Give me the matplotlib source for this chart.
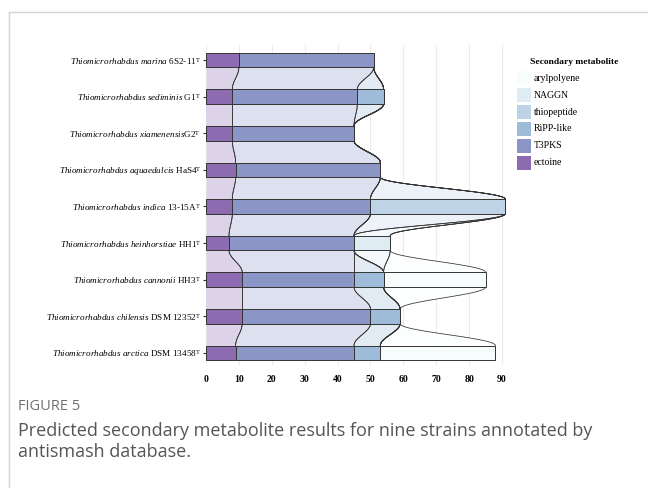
import numpy as np
import matplotlib.pyplot as plt
from matplotlib.patches import Rectangle
from matplotlib.lines import Line2D

plt.rcParams['font.family'] = ['Liberation Serif', 'DejaVu Serif']
plt.rcParams['mathtext.fontset'] = 'custom'
plt.rcParams['mathtext.rm'] = 'Liberation Serif'
plt.rcParams['mathtext.it'] = 'Liberation Serif:italic'
plt.rcParams['mathtext.bf'] = 'Liberation Serif:bold'

##### data (top to bottom)
strains = [r"$\it{Thiomicrorhabdus\ marina}$ 6S2-11${}^{\mathrm{T}}$",
           r"$\it{Thiomicrorhabdus\ sediminis}$ G1${}^{\mathrm{T}}$",
           r"$\it{Thiomicrorhabdus\ xiamenensis}$G2${}^{\mathrm{T}}$",
           r"$\it{Thiomicrorhabdus\ aquaedulcis}$ HaS4${}^{\mathrm{T}}$",
           r"$\it{Thiomicrorhabdus\ indica}$ 13-15A${}^{\mathrm{T}}$",
           r"$\it{Thiomicrorhabdus\ heinhorstiae}$ HH1${}^{\mathrm{T}}$",
           r"$\it{Thiomicrorhabdus\ cannonii}$ HH3${}^{\mathrm{T}}$",
           r"$\it{Thiomicrorhabdus\ chilensis}$ DSM 12352${}^{\mathrm{T}}$",
           r"$\it{Thiomicrorhabdus\ arctica}$ DSM 13458${}^{\mathrm{T}}$"]

# stacking order: ectoine first (left)
metabolites = ["ectoine", "T3PKS", "RiPP-like", "thiopeptide", "NAGGN", "arylpolyene"]
ectoine     = [10, 8, 8, 9, 8, 7, 11, 11, 9]
t3pks       = [41, 38, 37, 44, 42, 38, 34, 39, 36]
ripp_like   = [0, 8, 0, 0, 0, 0, 9, 9, 8]
thiopeptide = [0, 0, 0, 0, 41, 0, 0, 0, 0]
naggn       = [0, 0, 0, 0, 0, 11, 0, 0, 0]
arylpolyene = [0, 0, 0, 0, 0, 0, 31, 0, 35]
colors = ["#8c6bb1", "#8c96c6", "#9ebcda", "#bfd3e6", "#e0ecf4", "#f7fcfd"]
x_ticks = [0, 10, 20, 30, 40, 50, 60, 70, 80, 90]

values = np.array([ectoine, t3pks, ripp_like, thiopeptide, naggn, arylpolyene], dtype=float)
upper = np.cumsum(values, axis=0)
lower = upper - values

n = len(strains)
ypos = np.arange(n)[::-1]  # marina at top
h = 0.4

def light(c, a=0.3):
    rgb = np.array(plt.matplotlib.colors.to_rgb(c))
    return tuple(1 - a * (1 - rgb))

fig = plt.figure(figsize=(6.48, 4.88), dpi=100)
ax = fig.add_axes([206/648, 1 - 365/488, (508.6 - 206)/648, 320/488])

# flows between neighbouring bars
t = np.linspace(0, 1, 60)
s = 0.5 - 0.5 * np.cos(np.pi * t)
for i in range(n - 1):
    y0 = ypos[i] - h/2
    y1 = ypos[i + 1] + h/2
    yy = y0 + (y1 - y0) * t
    for k in range(len(metabolites)):
        lo = lower[k, i] + (lower[k, i+1] - lower[k, i]) * s
        hi = upper[k, i] + (upper[k, i+1] - upper[k, i]) * s
        ax.fill_betweenx(yy, lo, hi, color=light(colors[k]), lw=0, zorder=1)
        if k > 0:
            ax.plot(lo, yy, color='#333333', lw=0.55, zorder=2)
        ax.plot(hi, yy, color='#333333', lw=0.55, zorder=2)

# bars
for k in range(len(metabolites)):
    ax.barh(ypos, values[k], left=lower[k], height=h, color=colors[k],
            edgecolor='#333333', linewidth=0.7, zorder=3)

ax.set_xlim(0, 92)
ax.set_ylim(-0.33, 8.41)
ax.set_xticks(x_ticks)
ax.set_xticklabels([str(v) for v in x_ticks], fontweight='bold', fontsize=7)
ax.set_yticks(ypos)
ax.set_yticklabels(strains, fontsize=6.6)
ax.tick_params(axis='x', length=0, pad=7)
ax.tick_params(axis='y', length=2.5, width=0.8, pad=1, color='#333333')
ax.grid(axis='x', color='#ebebeb', lw=0.8, zorder=0)
ax.set_axisbelow(True)
for sp in ax.spines.values():
    sp.set_visible(False)

# legend (drawn by hand, reversed order)
fig.text(530.5/648, 1 - 62.5/488, "Secondary metabolite", fontsize=6.8,
         fontweight='bold', va='center')
for j, k in enumerate(range(len(metabolites) - 1, -1, -1)):
    yc = 78.5 + j * 16.8
    fig.add_artist(Rectangle((516.5/648, 1 - (yc + 7)/488), 14/648, 14/488,
                             transform=fig.transFigure, facecolor=colors[k],
                             edgecolor='none'))
    fig.text(534/648, 1 - yc/488, metabolites[k], fontsize=7, va='center')

# figure frame and caption
fig.add_artist(Line2D([9/648, 1], [1 - 12/488, 1 - 12/488], transform=fig.transFigure,
                      color='#d4d4d4', lw=1))
fig.add_artist(Line2D([9/648, 9/648], [0, 1 - 12/488], transform=fig.transFigure,
                      color='#d4d4d4', lw=1))
fig.text(18/648, 1 - 407/488, "FIGURE 5", fontsize=10.5, color='#707070',
         family='Open Sans', va='center')
fig.text(18/648, 1 - 431/488,
         "Predicted secondary metabolite results for nine strains annotated by",
         fontsize=13, color='#555555', family='Open Sans', va='center')
fig.text(18/648, 1 - 452/488, "antismash database.",
         fontsize=13, color='#555555', family='Open Sans', va='center')

plt.savefig("out.png", dpi=100)
